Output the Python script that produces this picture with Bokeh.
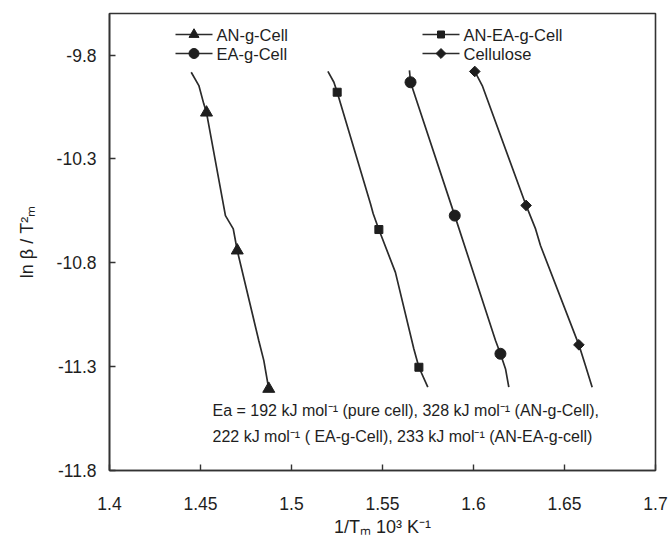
from bokeh.plotting import figure
from bokeh.models import Label, FixedTicker, Range1d
from bokeh.embed import file_html
from bokeh.resources import INLINE

# Kissinger plots: ln(beta / Tm^2) against 1/Tm (10^3 K^-1)
an_line_x = [1.4449, 1.4491, 1.4518, 1.4533, 1.4637, 1.4680, 1.4702, 1.4820, 1.4848, 1.4875]
an_line_y = [-9.883, -9.947, -10.035, -10.077, -10.573, -10.637, -10.741, -11.174, -11.271, -11.407]
an_pts_x = [1.4533, 1.4702, 1.4875]
an_pts_y = [-10.077, -10.741, -11.407]

anea_line_x = [1.5200, 1.5233, 1.5251, 1.5434, 1.5449, 1.5480, 1.5571, 1.5672, 1.5700, 1.5749]
anea_line_y = [-9.879, -9.931, -9.979, -10.516, -10.564, -10.640, -10.846, -11.214, -11.303, -11.399]
anea_pts_x = [1.5251, 1.5480, 1.5700]
anea_pts_y = [-9.979, -10.640, -11.303]

ea_line_x = [1.5648, 1.5654, 1.5897, 1.6121, 1.6148, 1.6176, 1.6194]
ea_line_y = [-9.874, -9.931, -10.573, -11.174, -11.238, -11.311, -11.399]
ea_pts_x = [1.5654, 1.5897, 1.6148]
ea_pts_y = [-9.931, -10.573, -11.238]

cell_line_x = [1.6007, 1.6048, 1.6289, 1.6341, 1.6368, 1.6579, 1.6615, 1.6652]
cell_line_y = [-9.879, -9.947, -10.524, -10.637, -10.717, -11.195, -11.295, -11.399]
cell_pts_x = [1.6007, 1.6289, 1.6579]
cell_pts_y = [-9.879, -10.524, -11.195]

x_ticks = [1.4, 1.45, 1.5, 1.55, 1.6, 1.65, 1.7]
x_tick_labels = ["1.4", "1.45", "1.5", "1.55", "1.6", "1.65", "1.7"]
y_ticks = [-9.8, -10.3, -10.8, -11.3, -11.8]
y_tick_labels = ["-9.8", "-10.3", "-10.8", "-11.3", "-11.8"]

ea_lines = [
    "Ea = 192 kJ mol\u207b\u00b9 (pure cell), 328 kJ mol\u207b\u00b9  (AN-g-Cell),",
    "222 kJ mol\u207b\u00b9  ( EA-g-Cell), 233 kJ mol\u207b\u00b9 (AN-EA-g-cell)",
]

FONT = "Liberation Sans"
INK = "#1e1e1e"
LINE = "#2b2b2b"

X0, X1, Y0, Y1 = 1.4, 1.7, -11.8, -9.6

p = figure(width=668, height=541, output_backend="svg", toolbar_location=None,
           x_range=Range1d(X0, X1), y_range=Range1d(Y0, Y1),
           min_border_left=109, min_border_right=13, min_border_top=13,
           min_border_bottom=71)
p.background_fill_color = "white"
p.border_fill_color = "white"
p.grid.visible = False
p.outline_line_color = "#333333"
p.outline_line_width = 1.6

# name, curve, marked points, marker, chart size, legend size, angle
series = [
    ("AN-g-Cell", an_line_x, an_line_y, an_pts_x, an_pts_y, "triangle", 12, 10, 0.0),
    ("AN-EA-g-Cell", anea_line_x, anea_line_y, anea_pts_x, anea_pts_y, "square", 8, 7, 0.0),
    ("EA-g-Cell", ea_line_x, ea_line_y, ea_pts_x, ea_pts_y, "circle", 11, 10, 0.0),
    ("Cellulose", cell_line_x, cell_line_y, cell_pts_x, cell_pts_y, "square", 7.5, 7, 0.785398),
]

for name, lx, ly, px, py, marker, size, _, angle in series:
    p.line(lx, ly, line_color=LINE, line_width=1.7)
    p.scatter(px, py, marker=marker, size=size, angle=angle,
              fill_color=INK, line_color=INK)


def sx(px):
    # canvas pixel column -> x data value
    return X0 + (px - 109) * (X1 - X0) / 546


def sy(py):
    # canvas pixel row -> y data value
    return Y1 - (py - 13) * (Y1 - Y0) / 457


# two-column legend drawn from line, marker and text pieces
slots = [(175, 34), (422, 34), (175, 53), (422, 53)]
order = ["AN-g-Cell", "AN-EA-g-Cell", "EA-g-Cell", "Cellulose"]
by_name = {s[0]: s for s in series}
for name, (lx0, ly0) in zip(order, slots):
    _, _, _, _, _, marker, _, lsize, angle = by_name[name]
    p.segment(x0=[sx(lx0)], y0=[sy(ly0)], x1=[sx(lx0 + 37)], y1=[sy(ly0)],
              line_color=LINE, line_width=1.7)
    p.scatter(x=[sx(lx0 + 18.5)], y=[sy(ly0)], marker=marker, size=lsize,
              angle=angle, fill_color=INK, line_color=INK)
    p.add_layout(Label(x=sx(lx0 + 41), y=sy(ly0), text=name, text_font=FONT,
                       text_font_size="16.5px", text_color=INK,
                       text_baseline="middle"))

for ax in (p.xaxis[0], p.yaxis[0]):
    ax.axis_line_color = "#333333"
    ax.axis_line_width = 1.6
    ax.major_tick_line_color = "#333333"
    ax.major_tick_line_width = 1.4
    ax.major_tick_in = 6
    ax.major_tick_out = 0
    ax.minor_tick_in = 0
    ax.minor_tick_out = 0
    ax.major_label_text_font = FONT
    ax.major_label_text_font_size = "17.5px"
    ax.major_label_text_color = INK
    ax.axis_label_text_font = FONT
    ax.axis_label_text_font_size = "18px"
    ax.axis_label_text_font_style = "normal"
    ax.axis_label_text_color = INK

p.xaxis.ticker = FixedTicker(ticks=x_ticks)
p.xaxis.major_label_overrides = dict(zip(x_ticks, x_tick_labels))
p.xaxis.major_label_standoff = 26
p.xaxis.axis_label = "1/T\u2098 10\u00b3 K\u207b\u00b9"
p.xaxis.axis_label_standoff = 4

p.yaxis.ticker = FixedTicker(ticks=y_ticks)
p.yaxis.major_label_overrides = dict(zip(y_ticks, y_tick_labels))
p.yaxis.major_label_standoff = 13
p.yaxis.axis_label = "ln \u03b2 / T\u00b2\u2098"
p.yaxis.axis_label_standoff = 17

for i, txt in enumerate(ea_lines):
    p.add_layout(Label(x=sx(212), y=sy(410 + 26 * i), text=txt,
                       text_font=FONT, text_font_size="16px",
                       text_color=INK, text_baseline="middle"))

open("out.html", "w").write(file_html(p, INLINE))
